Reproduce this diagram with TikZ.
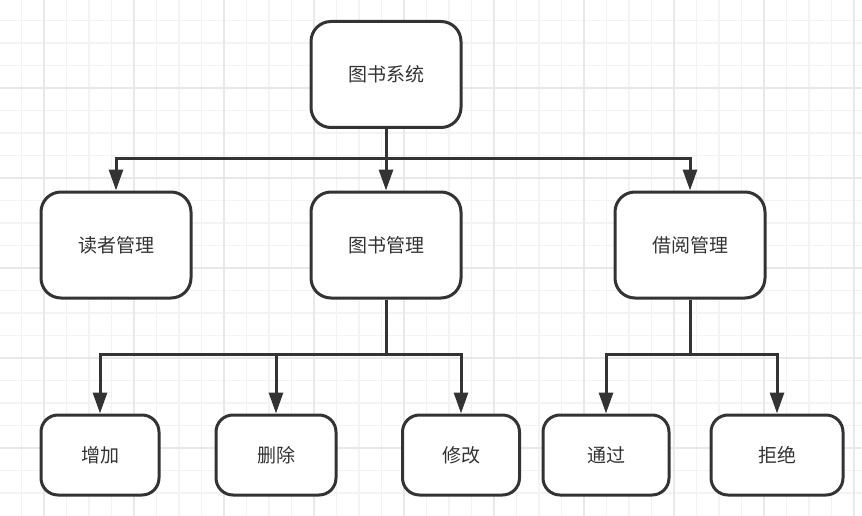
\documentclass[tikz,border=0pt]{standalone}
\usepackage{fontspec}
\setmainfont{Noto Sans CJK SC}
\usetikzlibrary{arrows.meta}
\definecolor{linegray}{HTML}{333333}
\definecolor{gridminor}{HTML}{F3F3F3}
\definecolor{gridmajor}{HTML}{E8E8E8}
\tikzset{
	module/.style={
		draw=linegray,
		line width=3pt,
		fill=white,
		rounded corners=20pt,
		minimum width=150pt,
		minimum height=106pt,
		text=linegray,
		font=\fontsize{19}{21}\selectfont
	},
	leaf/.style={
		module,
		rounded corners=17pt,
		minimum height=80pt
	},
	link/.style={
		-{Triangle[length=21pt,width=14pt]},
		draw=linegray,
		line width=3pt
	}
}

\begin{document}
\begin{tikzpicture}[x=1pt, y=-1pt]

	\useasboundingbox[fill=white] (0, 0) rectangle (862, 516);

	%% Background grid
	\begin{scope}[line width=1.5pt]
		\foreach \i in {1,...,38} {
			\draw[gridminor] (22.5*\i - 1, 0) -- (22.5*\i - 1, 516);
		}
		\foreach \i in {1,...,22} {
			\draw[gridminor] (0, 22.5*\i - 2) -- (862, 22.5*\i - 2);
		}
		\foreach \i in {0,...,9} {
			\draw[gridmajor] (44 + 90*\i, 0) -- (44 + 90*\i, 516);
		}
		\foreach \i in {0,...,5} {
			\draw[gridmajor] (0, 88 + 90*\i) -- (862, 88 + 90*\i);
		}
	\end{scope}

	%% Top level
	\node[module] (system) at (386, 74.5) {图书系统};

	%% Second level
	\node[module] (reader) at (116, 245) {读者管理};
	\node[module] (books) at (386, 245) {图书管理};
	\node[module] (borrow) at (690, 245) {借阅管理};

	%% Third level
	\node[leaf, minimum width=118pt] (add) at (100, 455) {增加};
	\node[leaf, minimum width=120pt] (remove) at (276, 455) {删除};
	\node[leaf, minimum width=117pt] (edit) at (461, 455) {修改};
	\node[leaf, minimum width=126pt] (pass) at (606, 455) {通过};
	\node[leaf, minimum width=132pt] (reject) at (777, 455) {拒绝};

	% Junctions
	\coordinate (j1) at (386, 159);
	\coordinate (j2) at (386, 354);
	\coordinate (j3) at (690, 354);

	% Connectors
	\draw[link] (system.south) -- (j1) -| (reader.north);
	\draw[link] (system.south) -- (books.north);
	\draw[link] (system.south) -- (j1) -| (borrow.north);

	\draw[link] (books.south) -- (j2) -| (add.north);
	\draw[link] (books.south) -- (j2) -| (remove.north);
	\draw[link] (books.south) -- (j2) -| (edit.north);

	\draw[link] (borrow.south) -- (j3) -| (pass.north);
	\draw[link] (borrow.south) -- (j3) -| (reject.north);

\end{tikzpicture}
\end{document}
